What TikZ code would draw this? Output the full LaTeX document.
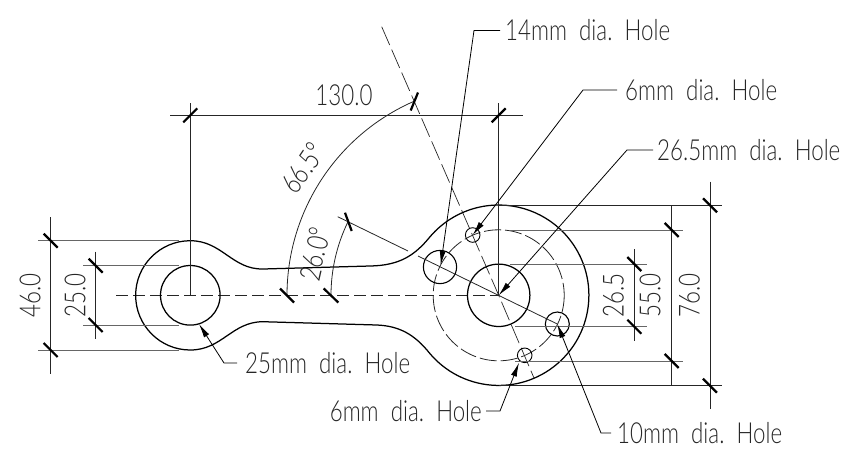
\documentclass[tikz,border=0pt]{standalone}
\usepackage{fontspec}
\usetikzlibrary{arrows.meta}
\newfontfamily\cadfont[FakeStretch=0.77]{Lato Light}
\tikzset{
  partline/.style={line width=1.25pt,black},
  dimline/.style={line width=0.8pt,black!85},
  extline/.style={line width=1pt,black!60},
  centerline/.style={line width=0.7pt,black!85,dash pattern=on 12pt off 5pt},
  diagline/.style={line width=0.7pt,black!85,dash pattern=on 20pt off 5pt},
  pitchline/.style={line width=0.8pt,black!85,dash pattern=on 17pt off 4pt},
  tick/.style={line width=2.2pt,black},
  leader/.style={line width=0.8pt,black,-{Latex[length=14pt,width=6pt]}},
  lbl/.style={font=\cadfont\fontsize{29}{30}\selectfont,inner sep=0pt,text=black!85},
  leaderlbl/.style={lbl,anchor=west}
}
\begin{document}
\begin{tikzpicture}[x=1pt,y=1pt,yscale=-1]
\useasboundingbox (0,0) rectangle (853,451);
% key points
\coordinate (L) at (190.3,295.3);
\coordinate (R) at (498.7,295.3);
% centre lines
\draw[centerline] (116,295.3) -- (R);
\draw[diagline] (381.7,26.7) -- (R) -- (534,378);
\draw[pitchline] (R) circle[radius=65.5];
% part outline
\draw[partline] (190.3,240.7) arc[start angle=-90,end angle=-270,radius=54.65]
  .. controls (222,350) and (232,321.7) .. (263,321.7)
  -- (377,325)
  .. controls (400,326) and (415,335) .. (429.6,353.2)
  arc[start angle=140,end angle=-140,radius=90.2]
  .. controls (415,255) and (400,265.5) .. (370,266)
  -- (263,269)
  .. controls (232,269.5) and (222,240.7) .. (190.3,240.7) -- cycle;
% holes
\draw[partline] (L) circle[radius=29.8];
\draw[partline] (R) circle[radius=31.2];
\coordinate (h14) at (440,267);
\coordinate (h6a) at (472.7,235);
\coordinate (h10) at (557.3,324);
\coordinate (h6b) at (524.7,355.3);
\draw[partline,line width=1.1pt] (h14) circle[radius=16.6];
\draw[partline,line width=1.1pt] (h10) circle[radius=12];
\draw[partline,line width=0.9pt] (h6a) circle[radius=7.3];
\draw[partline,line width=0.9pt] (h6b) circle[radius=7.3];
% 26 degree line
\draw[dimline] (337.7,216.7) -- (408,251);
\draw[dimline] (418,256) -- (h10);
% 130.0
\draw[dimline] (170,115.3) -- (522.7,115.3);
\draw[dimline] (190.3,103) -- (L);
\draw[dimline] (498.7,103) -- (R);
\draw[tick] (183.3,122.3) -- (197.3,108.3);
\draw[tick] (491.7,122.3) -- (505.7,108.3);
\node[lbl] (t130) at (344,95) {130.0};
% angles
\draw[dimline] (287,295.3) arc[start angle=-180,end angle=-113.5,radius=211.7];
\draw[dimline] (331,295.3) arc[start angle=-180,end angle=-154,radius=167.7];
\draw[tick] (280,288.5) -- (294,302.5);
\draw[tick] (323.7,288.5) -- (338.3,302.5);
\draw[tick] (410.7,110.5) -- (418,92.5);
\draw[tick] (345,212.7) -- (351.7,231);
\node[lbl,rotate=56] (t665) at (303,168) {66.5°};
\node[lbl,rotate=77] (t260) at (315,254) {26.0°};
% left dimensions
\draw[extline] (38.3,240.7) -- (179,240.7);
\draw[extline] (38.3,350) -- (179,350);
\draw[extline] (83.3,265.7) -- (179,265.7);
\draw[extline] (83.3,325) -- (179,325);
\draw[dimline] (50.7,217) -- (50.7,374);
\draw[dimline] (95.7,251.7) -- (95.7,339.3);
\draw[tick] (43.7,233.7) -- (57.7,247.7);
\draw[tick] (43.7,343) -- (57.7,357);
\draw[tick] (88.7,258.7) -- (102.7,272.7);
\draw[tick] (88.7,318) -- (102.7,332);
\node[lbl,rotate=90] (t46) at (30,295.5) {46.0};
\node[lbl,rotate=90] (t25) at (75,295.5) {25.0};
% right dimensions
\draw[dimline] (498.7,205.3) -- (722,205.3);
\draw[dimline] (498.7,385.7) -- (722,385.7);
\draw[extline] (510,230) -- (683.3,230);
\draw[extline] (515,361) -- (683.3,361);
\draw[extline] (510,264) -- (646.7,264);
\draw[extline] (515,326.7) -- (646.7,326.7);
\draw[dimline] (710,181.7) -- (710,409);
\draw[dimline] (671.7,205.3) -- (671.7,385.7);
\draw[dimline] (634.3,249.3) -- (634.3,340.7);
\draw[tick] (703,198.3) -- (717,212.3);
\draw[tick] (703,378.7) -- (717,392.7);
\draw[tick] (664.7,223) -- (678.7,237);
\draw[tick] (664.7,354) -- (678.7,368);
\draw[tick] (627.3,257) -- (641.3,271);
\draw[tick] (627.3,319.7) -- (641.3,333.7);
\node[lbl,rotate=90] (t76) at (689.3,295.5) {76.0};
\node[lbl,rotate=90] (t55) at (650,295.5) {55.0};
\node[lbl,rotate=90] (t265) at (613.3,295.5) {26.5};
% leaders
\node[leaderlbl,inner xsep=5pt] (n14) at (500,30.5) {14mm\ \ dia.\ \ Hole};
\node[leaderlbl,inner xsep=8pt] (n6a) at (617,90) {6mm\ \ dia.\ \ Hole};
\node[leaderlbl,inner xsep=4pt] (n265) at (653,150) {26.5mm\ \ dia.\ \ Hole};
\node[leaderlbl,inner xsep=8pt] (n25) at (237,363) {25mm\ \ dia.\ \ Hole};
\node[leaderlbl,inner xsep=6pt] (n10) at (611,433) {10mm\ \ dia.\ \ Hole};
\node[lbl,anchor=east,inner xsep=4pt] (n6b) at (486,411) {6mm\ \ dia.\ \ Hole};
\coordinate (e14) at (474,30.5);
\coordinate (e6a) at (583,90);
\coordinate (e265) at (627,150);
\coordinate (e25) at (224,363);
\coordinate (e10) at (601,433);
\coordinate (e6b) at (500,411);
\draw[leader] (n14.west) -- (e14) -- (440.7,265);
\draw[leader] (n6a.west) -- (e6a) -- (h6a);
\draw[leader] (n265.west) -- (e265) -- (R);
\draw[leader] (n25.west) -- (e25) -- (199,324);
\draw[leader] (n10.west) -- (e10) -- (h10);
\draw[leader] (n6b.east) -- (e6b) -- (519,362.7);
\end{tikzpicture}
\end{document}
